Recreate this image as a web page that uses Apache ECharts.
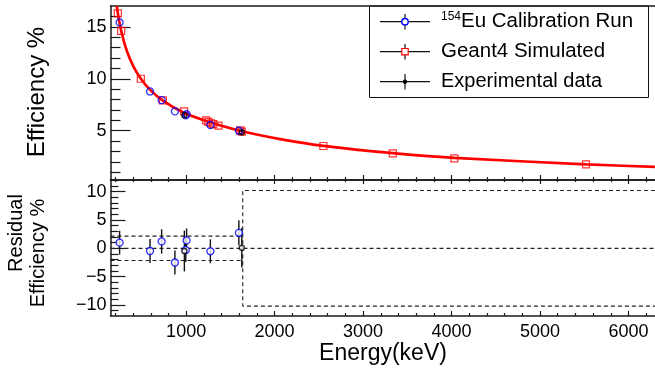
<!DOCTYPE html>
<html>
<head>
<meta charset="utf-8">
<script src="https://cdn.jsdelivr.net/npm/echarts@6/dist/echarts.min.js"></script>
<style>
  html, body { margin: 0; padding: 0; background: #ffffff; }
  #chart { width: 655px; height: 373px; }
</style>
</head>
<body>
<div id="chart"></div>
<script>
// 154Eu calibration points (keV, efficiency %, residual %)
const euEnergy = [248, 592, 723, 873, 996, 1005, 1274, 1596];
const euEfficiency = [15.42, 8.78, 7.95, 6.86, 6.48, 6.6, 5.55, 5.0];
const euResidual = [1.0, -0.47, 1.22, -2.5, -0.3, 1.4, -0.52, 2.74];
const euResidualErr = [2.1, 2.1, 2.15, 2.1, 2.1, 2.1, 2.1, 2.2];

// Geant4 simulated full-energy-peak efficiencies
const simEnergy = [228, 266, 488, 737, 977, 1226, 1252, 1282, 1308, 1365, 1610, 1629, 2551, 3336, 4032, 5520];
const simEfficiency = [16.3, 14.6, 10.0, 7.92, 6.86, 6.0, 5.85, 5.72, 5.64, 5.5, 5.03, 4.92, 3.53, 2.83, 2.35, 1.77];

// Experimental data points
const expEnergy = [980, 1629];
const expEfficiency = [6.5, 4.85];
const expEfficiencyErr = [0.3, 0.3];
const expResidual = [-0.47, 0.1];
const expResidualErr = [3.6, 3.5];

// Efficiency curve sampled along the fit
const fitEnergy = [216, 228, 266, 330, 405, 488, 593, 737, 970, 1226, 1610, 2062, 2551, 3336, 4032, 5520, 6299];
const fitEfficiency = [17.0, 16.3, 14.6, 12.67, 11.16, 10.0, 8.93, 7.9, 6.75, 5.94, 5.0, 4.2, 3.55, 2.84, 2.39, 1.77, 1.52];

// Residual tolerance band
const bandInner = 2.15;
const bandOuter = 10.2;
const bandSwitchEnergy = 1640;

// Axis ranges and ticks
const energyRange = [145, 6300];
const effRange = [0.26, 17.0];
const residRange = [-11.94, 12.06];
const energyTicks = [1000, 2000, 3000, 4000, 5000, 6000];
const energyMinorTicks = [200, 400, 600, 800, 1200, 1400, 1600, 1800, 2200, 2400, 2600, 2800,
  3200, 3400, 3600, 3800, 4200, 4400, 4600, 4800, 5200, 5400, 5600, 5800, 6200];
const effTicks = [5, 10, 15];
const effMinorTicks = [1, 2, 3, 4, 6, 7, 8, 9, 11, 12, 13, 14, 16];
const residTicks = [-10, -5, 0, 5, 10];
const residMinorTicks = [-11, -9, -8, -7, -6, -4, -3, -2, -1, 1, 2, 3, 4, 6, 7, 8, 9, 11, 12];

const FONT = '"Liberation Sans", Arial, Helvetica, sans-serif';
const LINE_COLOR = '#1a1a1a';
const BLUE = '#0000ff';
const RED = '#ff0000';

const pairs = (xs, ys) => xs.map((x, i) => [x, ys[i]]);
const triples = (xs, ys, es) => xs.map((x, i) => [x, ys[i], es[i]]);

function errorBar(params, api) {
  const x = api.value(0), y = api.value(1), e = api.value(2);
  const a = api.coord([x, y - e]);
  const b = api.coord([x, y + e]);
  return {
    type: 'line',
    shape: { x1: a[0], y1: a[1], x2: b[0], y2: b[1] },
    style: { stroke: '#111', lineWidth: 1.4 }
  };
}

const lineOff = { show: false, onZero: false };
const lineOn = { show: true, onZero: false, lineStyle: { color: LINE_COLOR, width: 1.5 } };

function xAxisDef(gridIndex, position, opts) {
  return Object.assign({
    type: 'value', gridIndex: gridIndex, position: position,
    min: energyRange[0], max: energyRange[1],
    axisLine: lineOff,
    axisTick: { show: false },
    axisLabel: { show: false },
    splitLine: { show: false }
  }, opts);
}
function yAxisDef(gridIndex, range, opts) {
  return Object.assign({
    type: 'value', gridIndex: gridIndex, position: 'left',
    min: range[0], max: range[1],
    axisLine: lineOff,
    axisTick: { show: false },
    axisLabel: { show: false },
    splitLine: { show: false }
  }, opts);
}
function ticks(values, len) {
  return { show: true, inside: true, length: len, customValues: values,
           lineStyle: { color: LINE_COLOR, width: 1.2 } };
}

const chart = echarts.init(document.getElementById('chart'), null, { renderer: 'canvas' });

const option = {
  animation: false,
  backgroundColor: '#ffffff',
  grid: [
    { left: 110.5, right: 0, top: 6, height: 174 },
    { left: 110.5, right: 0, top: 180, height: 136 }
  ],
  xAxis: [
    xAxisDef(0, 'bottom', { axisLine: lineOn, axisTick: ticks(energyTicks, 5) }),
    xAxisDef(0, 'bottom', { axisTick: ticks(energyMinorTicks, 3) }),
    xAxisDef(0, 'top', { axisLine: lineOn }),
    xAxisDef(1, 'bottom', {
      axisLine: lineOn, axisTick: ticks(energyTicks, 5),
      axisLabel: { show: true, customValues: energyTicks, margin: 7, fontSize: 18,
                   fontFamily: FONT, color: '#000', formatter: v => String(v) }
    }),
    xAxisDef(1, 'bottom', { axisTick: ticks(energyMinorTicks, 3) }),
    xAxisDef(1, 'top', { axisLine: lineOn, axisTick: ticks(energyTicks, 4) }),
    xAxisDef(1, 'top', { axisTick: ticks(energyMinorTicks, 2) })
  ],
  yAxis: [
    yAxisDef(0, effRange, {
      axisLine: lineOn, axisTick: ticks(effTicks, 20),
      axisLabel: { show: true, customValues: effTicks, margin: 4, fontSize: 18,
                   fontFamily: FONT, color: '#000' }
    }),
    yAxisDef(0, effRange, { axisTick: ticks(effMinorTicks, 10) }),
    yAxisDef(1, residRange, {
      axisLine: lineOn, axisTick: ticks(residTicks, 15),
      axisLabel: { show: true, customValues: residTicks, margin: 4, fontSize: 18,
                   fontFamily: FONT, color: '#000',
                   formatter: v => (v < 0 ? '\u2212' + Math.abs(v) : String(v)) }
    }),
    yAxisDef(1, residRange, { axisTick: ticks(residMinorTicks, 8) })
  ],
  series: [
    // --- efficiency panel ---
    {
      type: 'line', xAxisIndex: 0, yAxisIndex: 0, data: pairs(fitEnergy, fitEfficiency),
      smooth: 0.3, showSymbol: false, silent: true, z: 2,
      lineStyle: { color: RED, width: 2.7 }
    },
    {
      type: 'custom', xAxisIndex: 0, yAxisIndex: 0, renderItem: errorBar, z: 3,
      data: triples(expEnergy, expEfficiency, expEfficiencyErr)
    },
    {
      type: 'scatter', xAxisIndex: 0, yAxisIndex: 0, data: pairs(simEnergy, simEfficiency),
      symbol: 'rect', symbolSize: 7, z: 4,
      itemStyle: { color: 'rgba(0,0,0,0)', borderColor: RED, borderWidth: 1.2 }
    },
    {
      type: 'scatter', xAxisIndex: 0, yAxisIndex: 0, data: pairs(euEnergy, euEfficiency),
      symbol: 'circle', symbolSize: 7, z: 5,
      itemStyle: { color: 'rgba(0,0,0,0)', borderColor: BLUE, borderWidth: 1.3 }
    },
    {
      type: 'scatter', xAxisIndex: 0, yAxisIndex: 0, data: pairs(expEnergy, expEfficiency),
      symbol: 'circle', symbolSize: 5, z: 6,
      itemStyle: { color: 'rgba(0,0,0,0)', borderColor: '#000', borderWidth: 1.4 }
    },
    // --- residual panel ---
    {
      type: 'line', xAxisIndex: 3, yAxisIndex: 2, showSymbol: false, silent: true, z: 1,
      data: [[energyRange[0], 0], [energyRange[1], 0]],
      lineStyle: { color: '#222', width: 1.1, type: [4, 3] }
    },
    {
      type: 'line', xAxisIndex: 3, yAxisIndex: 2, showSymbol: false, silent: true, z: 1,
      data: [[energyRange[0], bandInner], [bandSwitchEnergy, bandInner]],
      lineStyle: { color: '#222', width: 1.1, type: [4, 3] }
    },
    {
      type: 'line', xAxisIndex: 3, yAxisIndex: 2, showSymbol: false, silent: true, z: 1,
      data: [[energyRange[0], -bandInner], [bandSwitchEnergy, -bandInner]],
      lineStyle: { color: '#222', width: 1.1, type: [4, 3] }
    },
    {
      type: 'line', xAxisIndex: 3, yAxisIndex: 2, showSymbol: false, silent: true, z: 1,
      data: [[energyRange[1], bandOuter], [bandSwitchEnergy, bandOuter],
             [bandSwitchEnergy, -bandOuter], [energyRange[1], -bandOuter]],
      lineStyle: { color: '#222', width: 1.1, type: [4, 3] }
    },
    {
      type: 'custom', xAxisIndex: 3, yAxisIndex: 2, renderItem: errorBar, z: 3,
      data: triples(euEnergy, euResidual, euResidualErr)
    },
    {
      type: 'custom', xAxisIndex: 3, yAxisIndex: 2, renderItem: errorBar, z: 3,
      data: triples(expEnergy, expResidual, expResidualErr)
    },
    {
      type: 'scatter', xAxisIndex: 3, yAxisIndex: 2, data: pairs(euEnergy, euResidual),
      symbol: 'circle', symbolSize: 7, z: 5,
      itemStyle: { color: '#ffffff', borderColor: BLUE, borderWidth: 1.3 }
    },
    {
      type: 'scatter', xAxisIndex: 3, yAxisIndex: 2, data: pairs(expEnergy, expResidual),
      symbol: 'circle', symbolSize: 5, z: 6,
      itemStyle: { color: '#ffffff', borderColor: '#000', borderWidth: 1.4 }
    }
  ],
  graphic: [
    // axis titles
    {
      type: 'text', x: 37, y: 92, rotation: Math.PI / 2,
      style: { text: 'Efficiency %', fontSize: 24, fontFamily: FONT, fill: '#000',
               align: 'center', verticalAlign: 'middle' }
    },
    {
      type: 'text', x: 16, y: 233, rotation: Math.PI / 2,
      style: { text: 'Residual', fontSize: 20, fontFamily: FONT, fill: '#000',
               align: 'center', verticalAlign: 'middle' }
    },
    {
      type: 'text', x: 38, y: 253, rotation: Math.PI / 2,
      style: { text: 'Efficiency %', fontSize: 20, fontFamily: FONT, fill: '#000',
               align: 'center', verticalAlign: 'middle' }
    },
    {
      type: 'text', x: 383, y: 354,
      style: { text: 'Energy(keV)', fontSize: 23, fontFamily: FONT, fill: '#000',
               align: 'center', verticalAlign: 'middle' }
    },
    // legend
    {
      type: 'group', x: 0, y: 0, children: [
        { type: 'rect', shape: { x: 369.5, y: 6, width: 279, height: 91.5 },
          style: { fill: '#ffffff', stroke: '#111', lineWidth: 1 } },

        { type: 'line', shape: { x1: 380, y1: 21.7, x2: 430, y2: 21.7 }, style: { stroke: '#111', lineWidth: 1.2 } },
        { type: 'line', shape: { x1: 405, y1: 14, x2: 405, y2: 29.4 }, style: { stroke: '#111', lineWidth: 1.2 } },
        { type: 'circle', shape: { cx: 405, cy: 21.7, r: 3.2 }, style: { fill: '#ffffff', stroke: BLUE, lineWidth: 1.4 } },
        { type: 'text', x: 441, y: 21.7,
          style: { text: '{sup|154}{main|Eu Calibration Run}', fontFamily: FONT, fill: '#000',
                   align: 'left', verticalAlign: 'middle',
                   rich: { sup: { fontSize: 12, fontFamily: FONT, verticalAlign: 'top', lineHeight: 22 },
                           main: { fontSize: 20.5, fontFamily: FONT, lineHeight: 22 } } } },

        { type: 'line', shape: { x1: 380, y1: 51.7, x2: 430, y2: 51.7 }, style: { stroke: '#111', lineWidth: 1.2 } },
        { type: 'line', shape: { x1: 405, y1: 44, x2: 405, y2: 59.4 }, style: { stroke: '#111', lineWidth: 1.2 } },
        { type: 'rect', shape: { x: 401.8, y: 48.5, width: 6.4, height: 6.4 }, style: { fill: '#ffffff', stroke: RED, lineWidth: 1.2 } },
        { type: 'text', x: 441, y: 51.7,
          style: { text: 'Geant4 Simulated', fontSize: 20.5, fontFamily: FONT, fill: '#000',
                   align: 'left', verticalAlign: 'middle' } },

        { type: 'line', shape: { x1: 380, y1: 81.7, x2: 430, y2: 81.7 }, style: { stroke: '#111', lineWidth: 1.2 } },
        { type: 'line', shape: { x1: 405, y1: 74, x2: 405, y2: 89.4 }, style: { stroke: '#111', lineWidth: 1.2 } },
        { type: 'circle', shape: { cx: 405, cy: 81.7, r: 1.8 }, style: { fill: '#000', stroke: '#000', lineWidth: 1 } },
        { type: 'text', x: 441, y: 81.7,
          style: { text: 'Experimental data', fontSize: 20, fontFamily: FONT, fill: '#000',
                   align: 'left', verticalAlign: 'middle' } }
      ]
    }
  ]
};

chart.setOption(option);
</script>
</body>
</html>
